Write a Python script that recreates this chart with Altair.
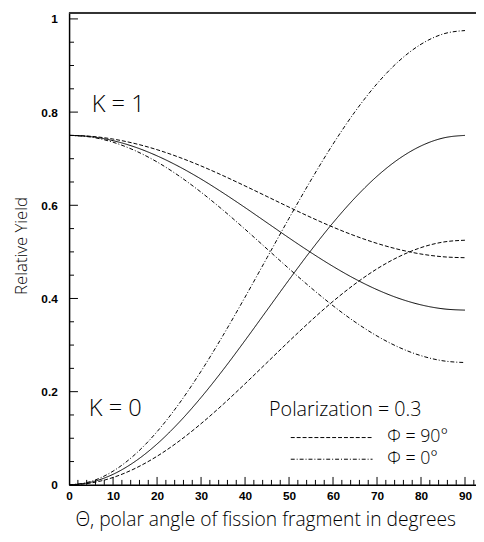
import altair as alt
import pandas as pd

# polar angle of fission fragment (degrees)
theta = [0, 5, 10, 15, 20, 25, 30, 35, 40, 45, 50, 55, 60, 65, 70, 75, 80, 85, 90]

# K = 0 curves
k0_solid = [0.0, 0.0057, 0.0226, 0.0502, 0.0877, 0.1340, 0.1875, 0.2467, 0.3099, 0.3750,
            0.4401, 0.5033, 0.5625, 0.6160, 0.6623, 0.6998, 0.7274, 0.7443, 0.7500]
k0_phi90 = [0.0, 0.0040, 0.0158, 0.0352, 0.0614, 0.0938, 0.1313, 0.1727, 0.2169, 0.2625,
            0.3081, 0.3523, 0.3938, 0.4312, 0.4636, 0.4898, 0.5092, 0.5210, 0.5250]
k0_phi0 = [0.0, 0.0074, 0.0294, 0.0653, 0.1141, 0.1741, 0.2438, 0.3208, 0.4028, 0.4875,
           0.5722, 0.6542, 0.7313, 0.8009, 0.8609, 0.9097, 0.9456, 0.9676, 0.9750]
# K = 1 curves
k1_solid = [0.75, 0.7472, 0.7387, 0.7249, 0.7061, 0.6830, 0.6563, 0.6266, 0.5951, 0.5625,
            0.5299, 0.4984, 0.4688, 0.4420, 0.4189, 0.4001, 0.3863, 0.3778, 0.3750]
k1_phi90 = [0.75, 0.7480, 0.7421, 0.7324, 0.7193, 0.7031, 0.6844, 0.6636, 0.6415, 0.6188,
            0.5960, 0.5739, 0.5531, 0.5344, 0.5182, 0.5051, 0.4954, 0.4895, 0.4875]
k1_phi0 = [0.75, 0.7463, 0.7353, 0.7173, 0.6930, 0.6629, 0.6281, 0.5896, 0.5486, 0.5063,
           0.4639, 0.4229, 0.3844, 0.3496, 0.3195, 0.2951, 0.2772, 0.2662, 0.2625]

x_labels = [0, 10, 20, 30, 40, 50, 60, 70, 80, 90]
x_major = [10, 20, 30, 40, 50, 60, 70, 80, 90]
x_minor = [v for v in range(2, 93, 2) if v % 10 != 0]
y_labels = [0, 0.2, 0.4, 0.6, 0.8, 1.0]
y_major = [0.2, 0.4, 0.6, 0.8, 1.0]
y_minor = [0.05, 0.10, 0.15, 0.25, 0.30, 0.35, 0.45, 0.50, 0.55, 0.65, 0.70, 0.75,
           0.85, 0.90, 0.95]

rows = []
for pol, K, vals in [("solid", "0", k0_solid), ("phi90", "0", k0_phi90), ("phi0", "0", k0_phi0),
                     ("solid", "1", k1_solid), ("phi90", "1", k1_phi90), ("phi0", "1", k1_phi0)]:
    for t, v in zip(theta, vals):
        rows.append({"theta": t, "y": v, "pol": pol, "K": K})
df = pd.DataFrame(rows)

W, H = 413, 480
TFONT = "Open Sans"
LFONT = "Liberation Sans"
xs = alt.Scale(domain=[0, 92.5], nice=False, zero=False)
ys = alt.Scale(domain=[0, 1.015], nice=False, zero=False)

XTITLE = "Θ, polar angle of fission fragment in degrees"
YTITLE = "Relative Yield"
x_axis = alt.Axis(values=x_labels, format="d", title=XTITLE, labelPadding=6,
                  titlePadding=9, titleX=199, titleFontSize=19.5)
y_axis = alt.Axis(values=y_labels, format="~g", title=YTITLE, labelPadding=12,
                  titlePadding=11, titleFontSize=17, titleY=237)

lines = alt.Chart(df).mark_line(color="black", strokeWidth=1, interpolate="monotone").encode(
    x=alt.X("theta:Q", scale=xs, axis=x_axis, title=XTITLE),
    y=alt.Y("y:Q", scale=ys, axis=y_axis, title=YTITLE),
    strokeDash=alt.StrokeDash("pol:N", scale=alt.Scale(
        domain=["solid", "phi90", "phi0"], range=[[1, 0], [4, 2], [4, 2, 1, 2]]), legend=None),
    detail="K:N",
)

def xticks(vals, length):
    return alt.Chart(pd.DataFrame({"theta": vals})).mark_rule(color="black", strokeWidth=1).encode(
        x=alt.X("theta:Q", scale=xs, axis=x_axis, title=XTITLE),
        y=alt.value(H), y2=alt.value(H - length))

def yticks(vals, length):
    return alt.Chart(pd.DataFrame({"y": vals})).mark_rule(color="black", strokeWidth=1).encode(
        y=alt.Y("y:Q", scale=ys, axis=y_axis, title=YTITLE),
        x=alt.value(0), x2=alt.value(length))

one = pd.DataFrame({"a": [0]})
top_border = alt.Chart(one).mark_rule(color="#333", strokeWidth=2).encode(
    x=alt.value(0), x2=alt.value(W), y=alt.value(1))

def label(text, x, y, size):
    return alt.Chart(one).mark_text(text=text, align="left", baseline="middle", font=TFONT,
                                    fontSize=size, fontWeight=300, color="black").encode(
        x=alt.value(x), y=alt.value(y))

leg90 = alt.Chart(one).mark_rule(color="black", strokeWidth=1, strokeDash=[4, 2]).encode(
    x=alt.value(225), x2=alt.value(308), y=alt.value(432))
leg0 = alt.Chart(one).mark_rule(color="black", strokeWidth=1, strokeDash=[4, 2, 1, 2]).encode(
    x=alt.value(225), x2=alt.value(308), y=alt.value(454))

chart = alt.layer(
    lines,
    xticks(x_major, 8), xticks(x_minor, 5), yticks(y_major, 9), yticks(y_minor, 5),
    top_border,
    label("K = 1", 23, 95, 24), label("K = 0", 20, 403, 24),
    label("Polarization = 0.3", 203, 404, 20),
    label("Φ = 90°", 323, 432, 18), label("Φ = 0°", 323, 454, 18),
    leg90, leg0,
).properties(
    width=W, height=H, autosize="none",
    padding={"left": 62, "top": 0, "right": 0, "bottom": 52},
).configure_view(stroke=None).configure(background="white").configure_axis(
    labelFont=LFONT, labelFontWeight="bold", labelFontSize=12, labelColor="black",
    labelFlush=False, ticks=False, grid=False, domainColor="black", domainWidth=1.5,
    titleFont=TFONT, titleFontWeight=300, titleColor="black",
)

chart.save("out.html", embed_options={"renderer": "svg", "actions": False})
